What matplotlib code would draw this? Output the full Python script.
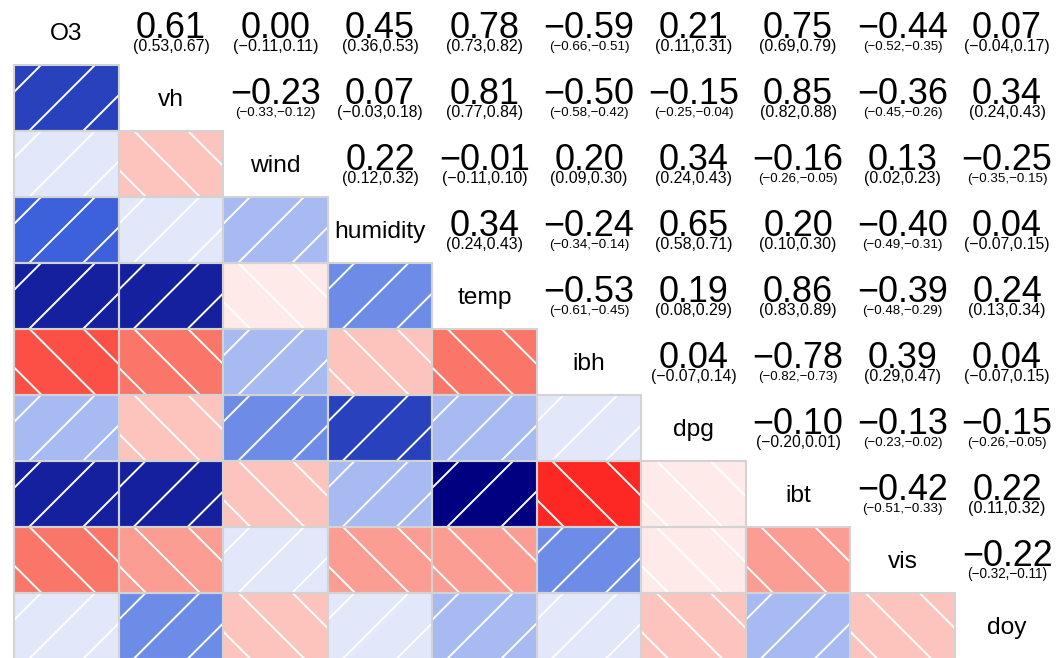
import numpy as np
import matplotlib
matplotlib.use("Agg")
import matplotlib.pyplot as plt
from matplotlib.patches import Rectangle

# ---------------- data ----------------
labels = ["O3", "vh", "wind", "humidity", "temp", "ibh", "dpg", "ibt", "vis", "doy"]

r_O3 = [0.61, 0.004, 0.45, 0.78, -0.59, 0.21, 0.75, -0.44, 0.07]
ci_O3 = [(0.53, 0.67), (-0.11, 0.11), (0.36, 0.53), (0.73, 0.82), (-0.66, -0.51),
         (0.11, 0.31), (0.69, 0.79), (-0.52, -0.35), (-0.04, 0.17)]
r_vh = [-0.23, 0.07, 0.81, -0.50, -0.15, 0.85, -0.36, 0.34]
ci_vh = [(-0.33, -0.12), (-0.03, 0.18), (0.77, 0.84), (-0.58, -0.42), (-0.25, -0.04),
         (0.82, 0.88), (-0.45, -0.26), (0.24, 0.43)]
r_wind = [0.22, -0.01, 0.20, 0.34, -0.16, 0.13, -0.25]
ci_wind = [(0.12, 0.32), (-0.11, 0.10), (0.09, 0.30), (0.24, 0.43), (-0.26, -0.05),
           (0.02, 0.23), (-0.35, -0.15)]
r_humidity = [0.34, -0.24, 0.65, 0.20, -0.40, 0.04]
ci_humidity = [(0.24, 0.43), (-0.34, -0.14), (0.58, 0.71), (0.10, 0.30), (-0.49, -0.31),
               (-0.07, 0.15)]
r_temp = [-0.53, 0.19, 0.86, -0.39, 0.24]
ci_temp = [(-0.61, -0.45), (0.08, 0.29), (0.83, 0.89), (-0.48, -0.29), (0.13, 0.34)]
r_ibh = [0.04, -0.78, 0.39, 0.04]
ci_ibh = [(-0.07, 0.14), (-0.82, -0.73), (0.29, 0.47), (-0.07, 0.15)]
r_dpg = [-0.10, -0.13, -0.15]
ci_dpg = [(-0.20, 0.01), (-0.23, -0.02), (-0.26, -0.05)]
r_ibt = [-0.42, 0.22]
ci_ibt = [(-0.51, -0.33), (0.11, 0.32)]
r_vis = [-0.22]
ci_vis = [(-0.32, -0.11)]

r_rows = [r_O3, r_vh, r_wind, r_humidity, r_temp, r_ibh, r_dpg, r_ibt, r_vis]
ci_rows = [ci_O3, ci_vh, ci_wind, ci_humidity, ci_temp, ci_ibh, ci_dpg, ci_ibt, ci_vis]

# ---------------- palette (corrgram default) ----------------
anchor_cols = np.array([[255, 0, 0], [250, 128, 114], [255, 255, 255],
                        [65, 105, 225], [0, 0, 128]]) / 255.0
NCOL = 14
tpos = np.linspace(0, 1, NCOL)
apos = np.linspace(0, 1, len(anchor_cols))
pal = np.stack([np.interp(tpos, apos, anchor_cols[:, c]) for c in range(3)], axis=1)


def shade_color(r):
    idx = int(np.ceil((r + 1) / (2.0 / NCOL) - 1e-9))
    idx = min(max(idx, 1), NCOL)
    return pal[idx - 1]


def fmt(v):
    return f"{v:.2f}".replace("-", "\u2212")


n = len(labels)
corr = np.eye(n)
cis = {}
for i, (rr, cc) in enumerate(zip(r_rows, ci_rows)):
    for k, (v, c) in enumerate(zip(rr, cc)):
        j = i + 1 + k
        corr[i, j] = corr[j, i] = v
        cis[(i, j)] = c

# ---------------- figure ----------------
W, H = 1057, 658
fig = plt.figure(figsize=(W / 100, H / 100), dpi=100)
ax = fig.add_axes([0, 0, 1, 1])
ax.set_xlim(0, W)
ax.set_ylim(H, 0)
ax.axis("off")
plt.rcParams["font.family"] = ["Liberation Sans", "DejaVu Sans"]

X0, CW = 14.3, 104.5
Y0, RH = -1.3, 66.0
HATCH = 54.0
PX = 0.72  # points per pixel at 100 dpi
CI_WIDTH = {0: 77.0, 1: 85.0, 2: 80.0}  # target CI text width by number of minus signs

renderer = fig.canvas.get_renderer()

for i in range(n):
    for j in range(n):
        xl = X0 + j * CW
        xr = xl + CW
        yt = Y0 + i * RH
        yb = yt + RH
        cx = (xl + xr) / 2
        if i == j:
            fs = 24.5
            ax.text(cx, (yt + yb) / 2 + 0.358 * fs, labels[i], ha="center",
                    va="baseline", fontsize=fs * PX, color="black")
        elif i > j:
            r = corr[i, j]
            rect = Rectangle((xl, yt), CW, RH, facecolor=shade_color(r),
                             edgecolor="none", zorder=1)
            ax.add_patch(rect)
            clip = Rectangle((xl, yt), CW, RH, transform=ax.transData)
            if r > 0:
                c0 = xl + yt + 27.0
                cvals = np.arange(c0 - HATCH * 4, xr + yb + HATCH, HATCH)
                for c in cvals:
                    ln, = ax.plot([c - yb - 5, c - yt + 5], [yb + 5, yt - 5],
                                  color="white", lw=1.4, zorder=2,
                                  solid_capstyle="butt")
                    ln.set_clip_path(clip)
            else:
                c0 = xl - yb + 27.0
                cvals = np.arange(c0 - HATCH * 4, xr - yt + HATCH, HATCH)
                for c in cvals:
                    ln, = ax.plot([c + yt - 5, c + yb + 5], [yt - 5, yb + 5],
                                  color="white", lw=1.4, zorder=2,
                                  solid_capstyle="butt")
                    ln.set_clip_path(clip)
            ax.add_patch(Rectangle((xl, yt), CW, RH, facecolor="none",
                                   edgecolor="#D3D3D3", lw=1.5, zorder=3))
        else:
            r = corr[i, j]
            lo, hi = cis[(i, j)]
            fs = 36.0
            ax.text(cx, yb - 0.6 * RH + 0.358 * fs, fmt(r), ha="center",
                    va="baseline", fontsize=fs * PX, color="black", zorder=4)
            s = "(" + fmt(lo) + "," + fmt(hi) + ")"
            nminus = int(lo < 0) + int(hi < 0)
            t = ax.text(cx, 0, s, ha="center", va="baseline", fontsize=10,
                        color="black", zorder=4)
            w = t.get_window_extent(renderer).width
            fs2 = 10 * CI_WIDTH[nminus] / w  # in points
            t.set_fontsize(fs2)
            t.set_y(yb - 0.3 * RH + 0.358 * fs2 / PX)

fig.savefig("out.png", dpi=100, facecolor="white")
